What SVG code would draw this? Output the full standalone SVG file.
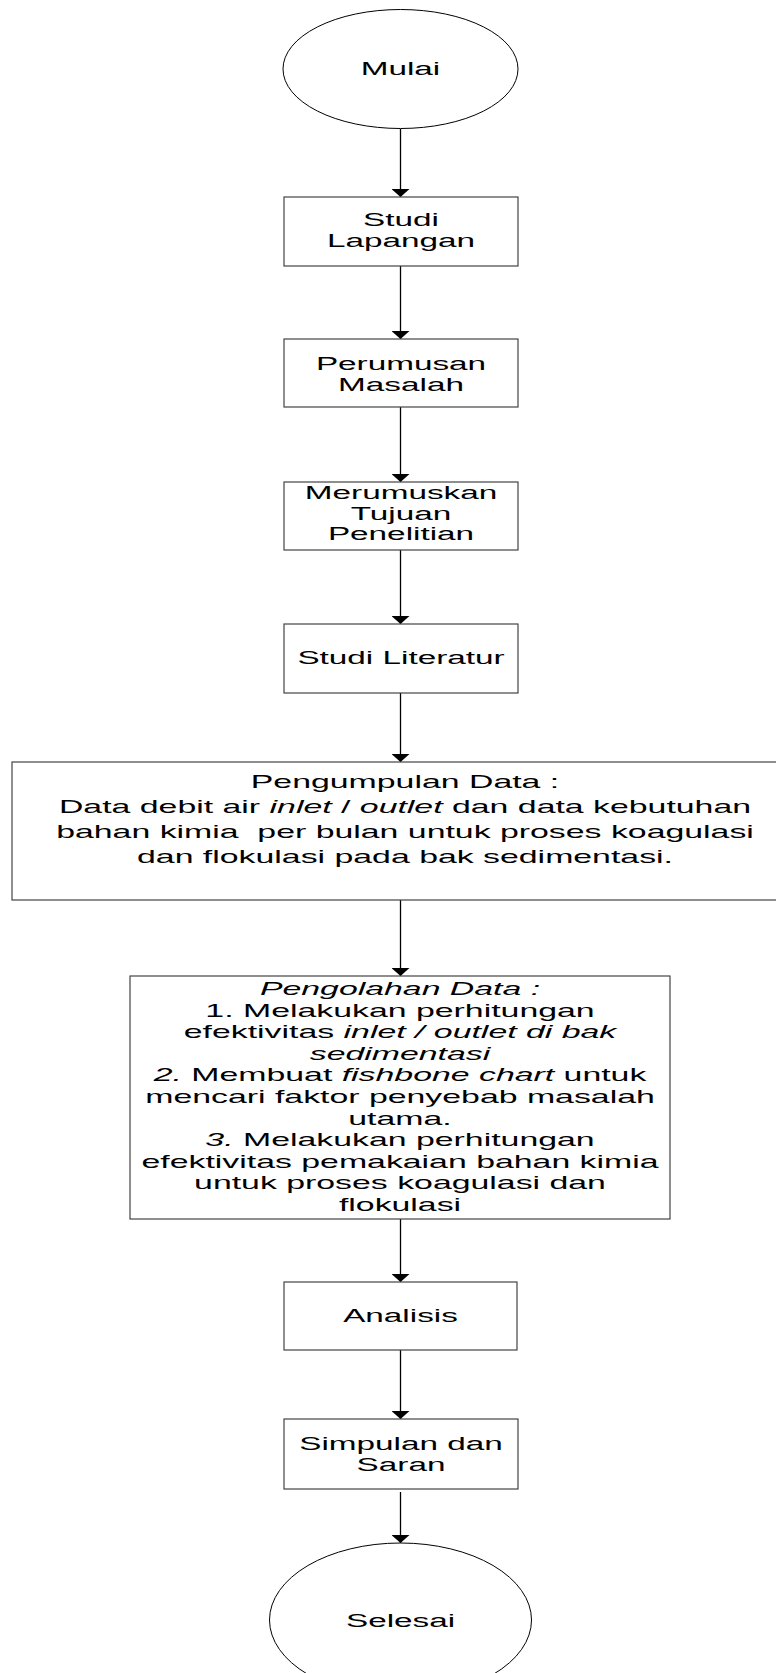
<svg xmlns="http://www.w3.org/2000/svg" width="776" height="1673" viewBox="0 0 776 1673">
<style>
.box{fill:#fff;stroke:#444;stroke-width:1.2}
.oval{fill:#fff;stroke:#000;stroke-width:1}
.ln{stroke:#000;stroke-width:1.3;fill:none;marker-end:url(#ah)}
text{font-family:"Liberation Sans",Arial,sans-serif;font-size:18px;fill:#000;text-anchor:middle}
.i{font-style:italic}
</style>
<defs>
<marker id="ah" viewBox="0 0 8 18" markerWidth="8" markerHeight="18" refX="8" refY="9" orient="auto" markerUnits="userSpaceOnUse">
<path d="M0,0 L8,9 L0,18 z" fill="#000"/>
</marker>
</defs>
<g id="connectors">
<line class="ln" x1="400.5" y1="129" x2="400.5" y2="197"/>
<line class="ln" x1="400.5" y1="266" x2="400.5" y2="339"/>
<line class="ln" x1="400.5" y1="407" x2="400.5" y2="482"/>
<line class="ln" x1="400.5" y1="550" x2="400.5" y2="624"/>
<line class="ln" x1="400.5" y1="693" x2="400.5" y2="762"/>
<line class="ln" x1="400.5" y1="900" x2="400.5" y2="976"/>
<line class="ln" x1="400.5" y1="1219" x2="400.5" y2="1282"/>
<line class="ln" x1="400.5" y1="1350" x2="400.5" y2="1419"/>
<line class="ln" x1="400.5" y1="1492" x2="400.5" y2="1543"/>
</g>
<g id="mulai">
<ellipse class="oval" cx="400.5" cy="69" rx="117.5" ry="59.5"/>
<g transform="translate(400.5,0) scale(1.85,1)"><text x="0" y="75">Mulai</text></g>
</g>
<g id="studi-lapangan">
<rect class="box" x="284" y="197" width="234" height="69"/>
<g transform="translate(401,0) scale(1.85,1)"><text x="0" y="226">Studi</text><text x="0" y="247">Lapangan</text></g>
</g>
<g id="perumusan-masalah">
<rect class="box" x="284" y="339" width="234" height="68"/>
<g transform="translate(401,0) scale(1.85,1)"><text x="0" y="370">Perumusan</text><text x="0" y="391">Masalah</text></g>
</g>
<g id="merumuskan-tujuan">
<rect class="box" x="284" y="482" width="234" height="68"/>
<g transform="translate(401,0) scale(1.85,1)"><text x="0" y="499.5">Merumuskan</text><text x="0" y="520">Tujuan</text><text x="0" y="540.5">Penelitian</text></g>
</g>
<g id="studi-literatur">
<rect class="box" x="284" y="624" width="234" height="69"/>
<g transform="translate(401,0) scale(1.85,1)"><text x="0" y="664">Studi Literatur</text></g>
</g>
<g id="pengumpulan-data">
<rect class="box" x="12" y="762" width="780" height="138"/>
<g transform="translate(405,0) scale(1.88,1)">
<text x="0" y="788">Pengumpulan Data :</text>
<text x="0" y="813">Data debit air <tspan class="i">inlet</tspan> / <tspan class="i">outlet</tspan> dan data kebutuhan</text>
<text x="0" y="838">bahan kimia &#160;per bulan untuk proses koagulasi</text>
<text x="0" y="863">dan flokulasi pada bak sedimentasi.</text>
</g>
</g>
<g id="pengolahan-data">
<rect class="box" x="130" y="976" width="540" height="243"/>
<g transform="translate(400,0) scale(1.88,1)">
<text x="0" y="995" class="i">Pengolahan Data :</text>
<text x="0" y="1016.6">1. Melakukan perhitungan</text>
<text x="0" y="1038.2">efektivitas <tspan class="i">inlet / outlet di bak</tspan></text>
<text x="0" y="1059.8" class="i">sedimentasi</text>
<text x="0" y="1081.4"><tspan class="i">2.</tspan> Membuat <tspan class="i">fishbone chart</tspan> untuk</text>
<text x="0" y="1103">mencari faktor penyebab masalah</text>
<text x="0" y="1124.6">utama.</text>
<text x="0" y="1146.2"><tspan class="i">3.</tspan> Melakukan perhitungan</text>
<text x="0" y="1167.8">efektivitas pemakaian bahan kimia</text>
<text x="0" y="1189.4">untuk proses koagulasi dan</text>
<text x="0" y="1211">flokulasi</text>
</g>
</g>
<g id="analisis">
<rect class="box" x="284" y="1282" width="233" height="68"/>
<g transform="translate(400.5,0) scale(1.85,1)"><text x="0" y="1322">Analisis</text></g>
</g>
<g id="simpulan-saran">
<rect class="box" x="284" y="1419" width="234" height="70"/>
<g transform="translate(401,0) scale(1.85,1)"><text x="0" y="1450">Simpulan dan</text><text x="0" y="1471">Saran</text></g>
</g>
<g id="selesai">
<ellipse class="oval" cx="400.5" cy="1620" rx="131" ry="77"/>
<g transform="translate(400.5,0) scale(1.85,1)"><text x="0" y="1627">Selesai</text></g>
</g>
</svg>
